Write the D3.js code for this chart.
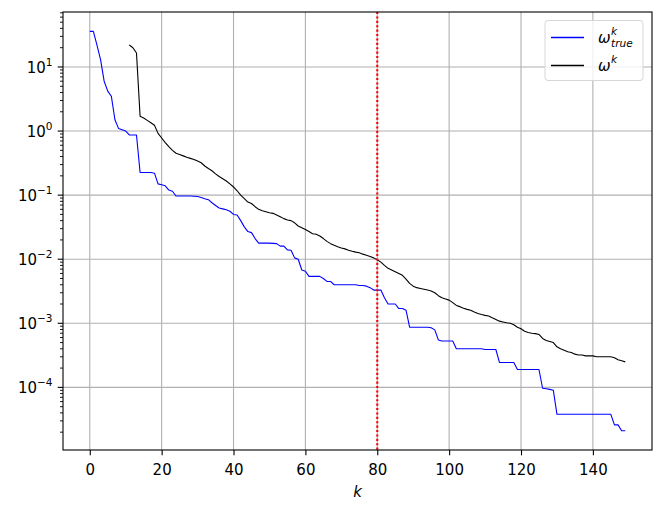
<!DOCTYPE html>
<html>
<head>
<meta charset="utf-8">
<script src="https://cdn.jsdelivr.net/npm/d3@7"></script>
<style>
  body { margin: 0; background: #fff; }
  svg { display: block; font-family: "DejaVu Sans", sans-serif; }
</style>
</head>
<body>
<svg id="chart" width="664" height="513"></svg>
<script>
// iteration index k
const kTrue = d3.range(0, 150);
const kEst = d3.range(11, 150);

// omega_true^k (blue)
const omegaTrue = [
  36, 36, 22, 13, 6.0, 4.2, 3.5, 1.5, 1.1, 1.05,
  1.0, 0.87, 0.87, 0.87, 0.225, 0.225, 0.225, 0.225, 0.22, 0.15,
  0.145, 0.14, 0.12, 0.115, 0.097, 0.097, 0.097, 0.097, 0.097, 0.096,
  0.095, 0.092, 0.088, 0.085, 0.076, 0.069, 0.063, 0.061, 0.059, 0.056,
  0.05, 0.049, 0.04, 0.032, 0.027, 0.026, 0.021, 0.0178, 0.0178, 0.0178,
  0.0178, 0.0177, 0.0175, 0.016, 0.016, 0.014, 0.0138, 0.0105, 0.01, 0.0068,
  0.0065, 0.0054, 0.0054, 0.0054, 0.0054, 0.005, 0.0045, 0.0045, 0.004, 0.004,
  0.004, 0.004, 0.004, 0.004, 0.004, 0.0039, 0.0039, 0.0038, 0.0036, 0.0033,
  0.0033, 0.0033, 0.0025, 0.002, 0.002, 0.002, 0.0017, 0.0017, 0.0016, 0.00087,
  0.00087, 0.00087, 0.00087, 0.00087, 0.00087, 0.00085, 0.00079, 0.00055, 0.00053, 0.00053,
  0.00053, 0.00053, 0.0004, 0.0004, 0.0004, 0.0004, 0.0004, 0.0004, 0.0004, 0.0004,
  0.00039, 0.00039, 0.00039, 0.00039, 0.000245, 0.000245, 0.000245, 0.000245, 0.000245, 0.00019,
  0.00019, 0.00019, 0.00019, 0.00019, 0.00019, 0.00019, 0.000097, 0.000095, 0.000093, 0.00009,
  0.000038, 0.000038, 0.000038, 0.000038, 0.000038, 0.000038, 0.000038, 0.000038, 0.000038, 0.000038,
  0.000038, 0.000038, 0.000038, 0.000038, 0.000038, 0.000038, 0.000026, 0.000026, 0.000021, 0.000021
];

// omega^k (black), starts at k = 11
const omegaEst = [
  22, 20, 16.5, 1.7, 1.6, 1.47, 1.35, 1.23, 0.92,
  0.78, 0.66, 0.57, 0.5, 0.45, 0.43, 0.41, 0.39, 0.375, 0.36,
  0.34, 0.32, 0.285, 0.26, 0.24, 0.215, 0.195, 0.18, 0.166, 0.15,
  0.134, 0.117, 0.1, 0.088, 0.078, 0.074, 0.066, 0.06, 0.057, 0.055,
  0.053, 0.052, 0.049, 0.046, 0.043, 0.041, 0.04, 0.037, 0.033, 0.031,
  0.029, 0.027, 0.025, 0.0245, 0.023, 0.021, 0.019, 0.0175, 0.0165, 0.0157,
  0.015, 0.0145, 0.0138, 0.0133, 0.0129, 0.0126, 0.012, 0.0115, 0.011, 0.0105,
  0.0098, 0.009, 0.008, 0.0072, 0.0068, 0.0064, 0.006, 0.0056, 0.0049, 0.0042,
  0.0038, 0.0036, 0.0035, 0.0034, 0.0033, 0.0032, 0.003, 0.0027, 0.0025, 0.0024,
  0.0023, 0.0021, 0.0019, 0.00182, 0.00172, 0.00165, 0.0016, 0.0015, 0.00142, 0.00137,
  0.00133, 0.0013, 0.00122, 0.00115, 0.00108, 0.00105, 0.00102, 0.001, 0.00095, 0.00087,
  0.00082, 0.00075, 0.00072, 0.0007, 0.00069, 0.00067, 0.00058, 0.00054, 0.00052, 0.0005,
  0.00043, 0.0004, 0.00038, 0.00036, 0.00035, 0.00033, 0.00032, 0.00032, 0.00031, 0.00031,
  0.00031, 0.0003, 0.0003, 0.0003, 0.0003, 0.0003, 0.00029, 0.00027, 0.00026, 0.00025
];

const xTicks = [0, 20, 40, 60, 80, 100, 120, 140];
const yTicks = [1e-4, 1e-3, 1e-2, 1e-1, 1, 10];
const yExps = ["\u22124", "\u22123", "\u22122", "\u22121", "0", "1"];
const kMark = 80;

const svg = d3.select("#chart");
const mLeft = 63, mRight = 652, mTop = 12, mBottom = 450;
const fs = 15;

const x = d3.scaleLinear().domain([-7.45, 156.45]).range([mLeft, mRight]);
const y = d3.scaleLog().domain([1.054e-5, 72.1]).range([mBottom, mTop]);

// grid
const grid = svg.append("g").attr("stroke", "#b0b0b0").attr("stroke-width", 1.1);
grid.selectAll(".gx").data(xTicks).join("line")
  .attr("x1", d => x(d)).attr("x2", d => x(d))
  .attr("y1", mTop).attr("y2", mBottom);
grid.selectAll(".gy").data(yTicks).join("line")
  .attr("x1", mLeft).attr("x2", mRight)
  .attr("y1", d => y(d)).attr("y2", d => y(d));

// data lines
const line = d3.line().x(d => x(d[0])).y(d => y(d[1]));

svg.append("path")
  .datum(kTrue.map((k, i) => [k, omegaTrue[i]]))
  .attr("fill", "none").attr("stroke", "blue").attr("stroke-width", 1.1)
  .attr("stroke-linejoin", "round")
  .attr("d", line);

svg.append("path")
  .datum(kEst.map((k, i) => [k, omegaEst[i]]))
  .attr("fill", "none").attr("stroke", "black").attr("stroke-width", 1.1)
  .attr("stroke-linejoin", "round")
  .attr("d", line);

// vertical marker
svg.append("line")
  .attr("x1", x(kMark)).attr("x2", x(kMark))
  .attr("y1", mTop).attr("y2", mBottom)
  .attr("stroke", "red").attr("stroke-width", 2.1)
  .attr("stroke-dasharray", "2.1,2.3");

// x axis
const xAxis = svg.append("g")
  .attr("transform", `translate(0,${mBottom})`)
  .call(d3.axisBottom(x).tickValues(xTicks).tickSize(5.3).tickPadding(9).tickFormat(d3.format("d")));
xAxis.select(".domain").remove();
xAxis.selectAll("line").attr("stroke", "#000").attr("stroke-width", 1.1);
xAxis.selectAll("text").attr("font-size", fs).attr("font-family", "DejaVu Sans").attr("fill", "#000");

// y axis (major + minor ticks)
const minor = [];
for (let e = -5; e <= 1; e++)
  for (let m = 2; m <= 9; m++) {
    const v = m * Math.pow(10, e);
    if (v >= y.domain()[0] && v <= y.domain()[1]) minor.push(v);
  }

const yg = svg.append("g");
yg.selectAll(".minor").data(minor).join("line")
  .attr("x1", mLeft - 3).attr("x2", mLeft)
  .attr("y1", d => y(d)).attr("y2", d => y(d))
  .attr("stroke", "#000").attr("stroke-width", 0.9);
yg.selectAll(".major").data(yTicks).join("line")
  .attr("x1", mLeft - 5.3).attr("x2", mLeft)
  .attr("y1", d => y(d)).attr("y2", d => y(d))
  .attr("stroke", "#000").attr("stroke-width", 1.1);

const ylab = yg.selectAll(".lab").data(yTicks).join("text")
  .attr("x", mLeft - 10.5)
  .attr("y", d => y(d) + 6)
  .attr("text-anchor", "end")
  .attr("font-size", fs);
ylab.append("tspan").text("10");
ylab.append("tspan").attr("font-size", fs * 0.7).attr("dy", -7)
  .text((d, i) => yExps[i]);

// frame
svg.append("rect")
  .attr("x", mLeft).attr("y", mTop)
  .attr("width", mRight - mLeft).attr("height", mBottom - mTop)
  .attr("fill", "none").attr("stroke", "#000").attr("stroke-width", 1.1);

// x label
svg.append("text")
  .attr("x", (mLeft + mRight) / 2).attr("y", 497)
  .attr("text-anchor", "middle")
  .attr("font-size", fs).attr("font-style", "italic")
  .text("k");

// legend
const lg = svg.append("g");
lg.append("rect")
  .attr("x", 545).attr("y", 20.5).attr("width", 98).attr("height", 60)
  .attr("rx", 3).attr("fill", "#fff").attr("fill-opacity", 0.8)
  .attr("stroke", "#d6d6d6").attr("stroke-width", 1);

const legendColors = ["rgb(0,0,255)", "rgb(0,0,0)"];
const legendRows = [37.5, 65.5];
const legendSubs = ["true", null];
lg.selectAll("rect.key").data(legendRows).join("rect")
  .attr("class", "key")
  .attr("x", 551).attr("width", 33)
  .attr("y", d => d - 0.75).attr("height", 1.5)
  .attr("fill", (d, i) => legendColors[i]);

legendRows.forEach((ly, i) => {
  const w = lg.append("text")
    .attr("x", 598).attr("y", ly + 5)
    .attr("font-size", fs).attr("font-style", "italic")
    .text("\u03c9");
  const wl = w.node().getComputedTextLength();
  lg.append("text")
    .attr("x", 598 + wl + 0.5).attr("y", ly - 2.5)
    .attr("font-size", fs * 0.7).attr("font-style", "italic")
    .text("k");
  if (legendSubs[i])
    lg.append("text")
      .attr("x", 598 + wl + 0.5).attr("y", ly + 9)
      .attr("font-size", fs * 0.7).attr("font-style", "italic")
      .text(legendSubs[i]);
});
</script>
</body>
</html>
